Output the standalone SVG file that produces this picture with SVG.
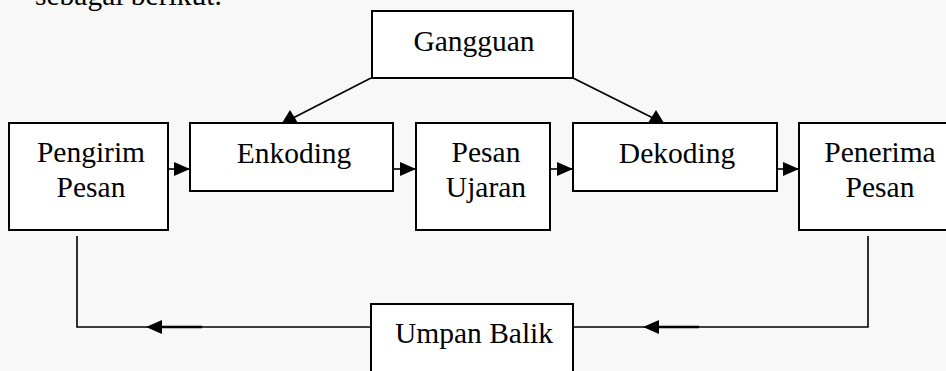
<svg xmlns="http://www.w3.org/2000/svg" width="946" height="371" viewBox="0 0 946 371">
<style>
.bg{fill:#f8f8f8}
.box{fill:#ffffff;stroke:#000;stroke-width:2}
.t{font-family:'Liberation Serif','Tinos','Times New Roman','DejaVu Serif',serif;font-size:29.5px;fill:#000;text-anchor:middle}
.ln{stroke:#000;stroke-width:1.6;fill:none}
.ah{fill:#000}
</style>
<defs>
<marker id="arr" viewBox="0 0 16 14" refX="16" refY="7" markerWidth="16" markerHeight="14" markerUnits="userSpaceOnUse" orient="auto">
<path d="M0,0 L16,7 L0,14 Z" fill="#000"/>
</marker>
</defs>
<rect class="bg" x="0" y="0" width="946" height="371"/>
<text class="t" x="35" y="5" style="text-anchor:start" font-family="'Liberation Serif', 'DejaVu Serif', serif">sebagai berikut.</text>

<g id="connectors">
<line class="ln" x1="168" y1="169" x2="190" y2="169" marker-end="url(#arr)"/>
<line class="ln" x1="393" y1="169" x2="416" y2="169" marker-end="url(#arr)"/>
<line class="ln" x1="550" y1="169" x2="573" y2="169" marker-end="url(#arr)"/>
<line class="ln" x1="777" y1="169" x2="799" y2="169" marker-end="url(#arr)"/>
<line class="ln" x1="371" y1="78" x2="293" y2="118"/>
<polygon class="ah" points="282,123 298,123 290,110"/>
<line class="ln" x1="573" y1="78" x2="653" y2="118"/>
<polygon class="ah" points="648,123 664,123 656,110"/>
<polyline class="ln" points="77,236 77,327 371,327"/>
<line x1="161" y1="327" x2="202" y2="327" stroke="#000" stroke-width="2.6"/>
<polygon class="ah" points="146,327 162,320 162,334"/>
<polyline class="ln" points="868,236 868,327 573,327"/>
<line x1="658" y1="327" x2="699" y2="327" stroke="#000" stroke-width="2.6"/>
<polygon class="ah" points="643,327 659,320 659,334"/>
</g>

<g id="gangguan">
<rect class="box" x="372" y="11" width="201" height="67"/>
<text class="t" x="474" y="51">Gangguan</text>
</g>
<g id="pengirim">
<rect class="box" x="9" y="123" width="159" height="107"/>
<text class="t" x="91" y="162">Pengirim</text>
<text class="t" x="91" y="197">Pesan</text>
</g>
<g id="enkoding">
<rect class="box" x="190" y="123" width="203" height="68"/>
<text class="t" x="294" y="163">Enkoding</text>
</g>
<g id="pesan-ujaran">
<rect class="box" x="416" y="123" width="134" height="107"/>
<text class="t" x="486" y="162">Pesan</text>
<text class="t" x="486" y="197">Ujaran</text>
</g>
<g id="dekoding">
<rect class="box" x="573" y="123" width="204" height="68"/>
<text class="t" x="677" y="163">Dekoding</text>
</g>
<g id="penerima">
<rect class="box" x="799" y="123" width="162" height="107"/>
<text class="t" x="880" y="162">Penerima</text>
<text class="t" x="880" y="197">Pesan</text>
</g>
<g id="umpan-balik">
<rect class="box" x="371" y="304" width="202" height="80"/>
<text class="t" x="474" y="343">Umpan Balik</text>
</g>
</svg>
